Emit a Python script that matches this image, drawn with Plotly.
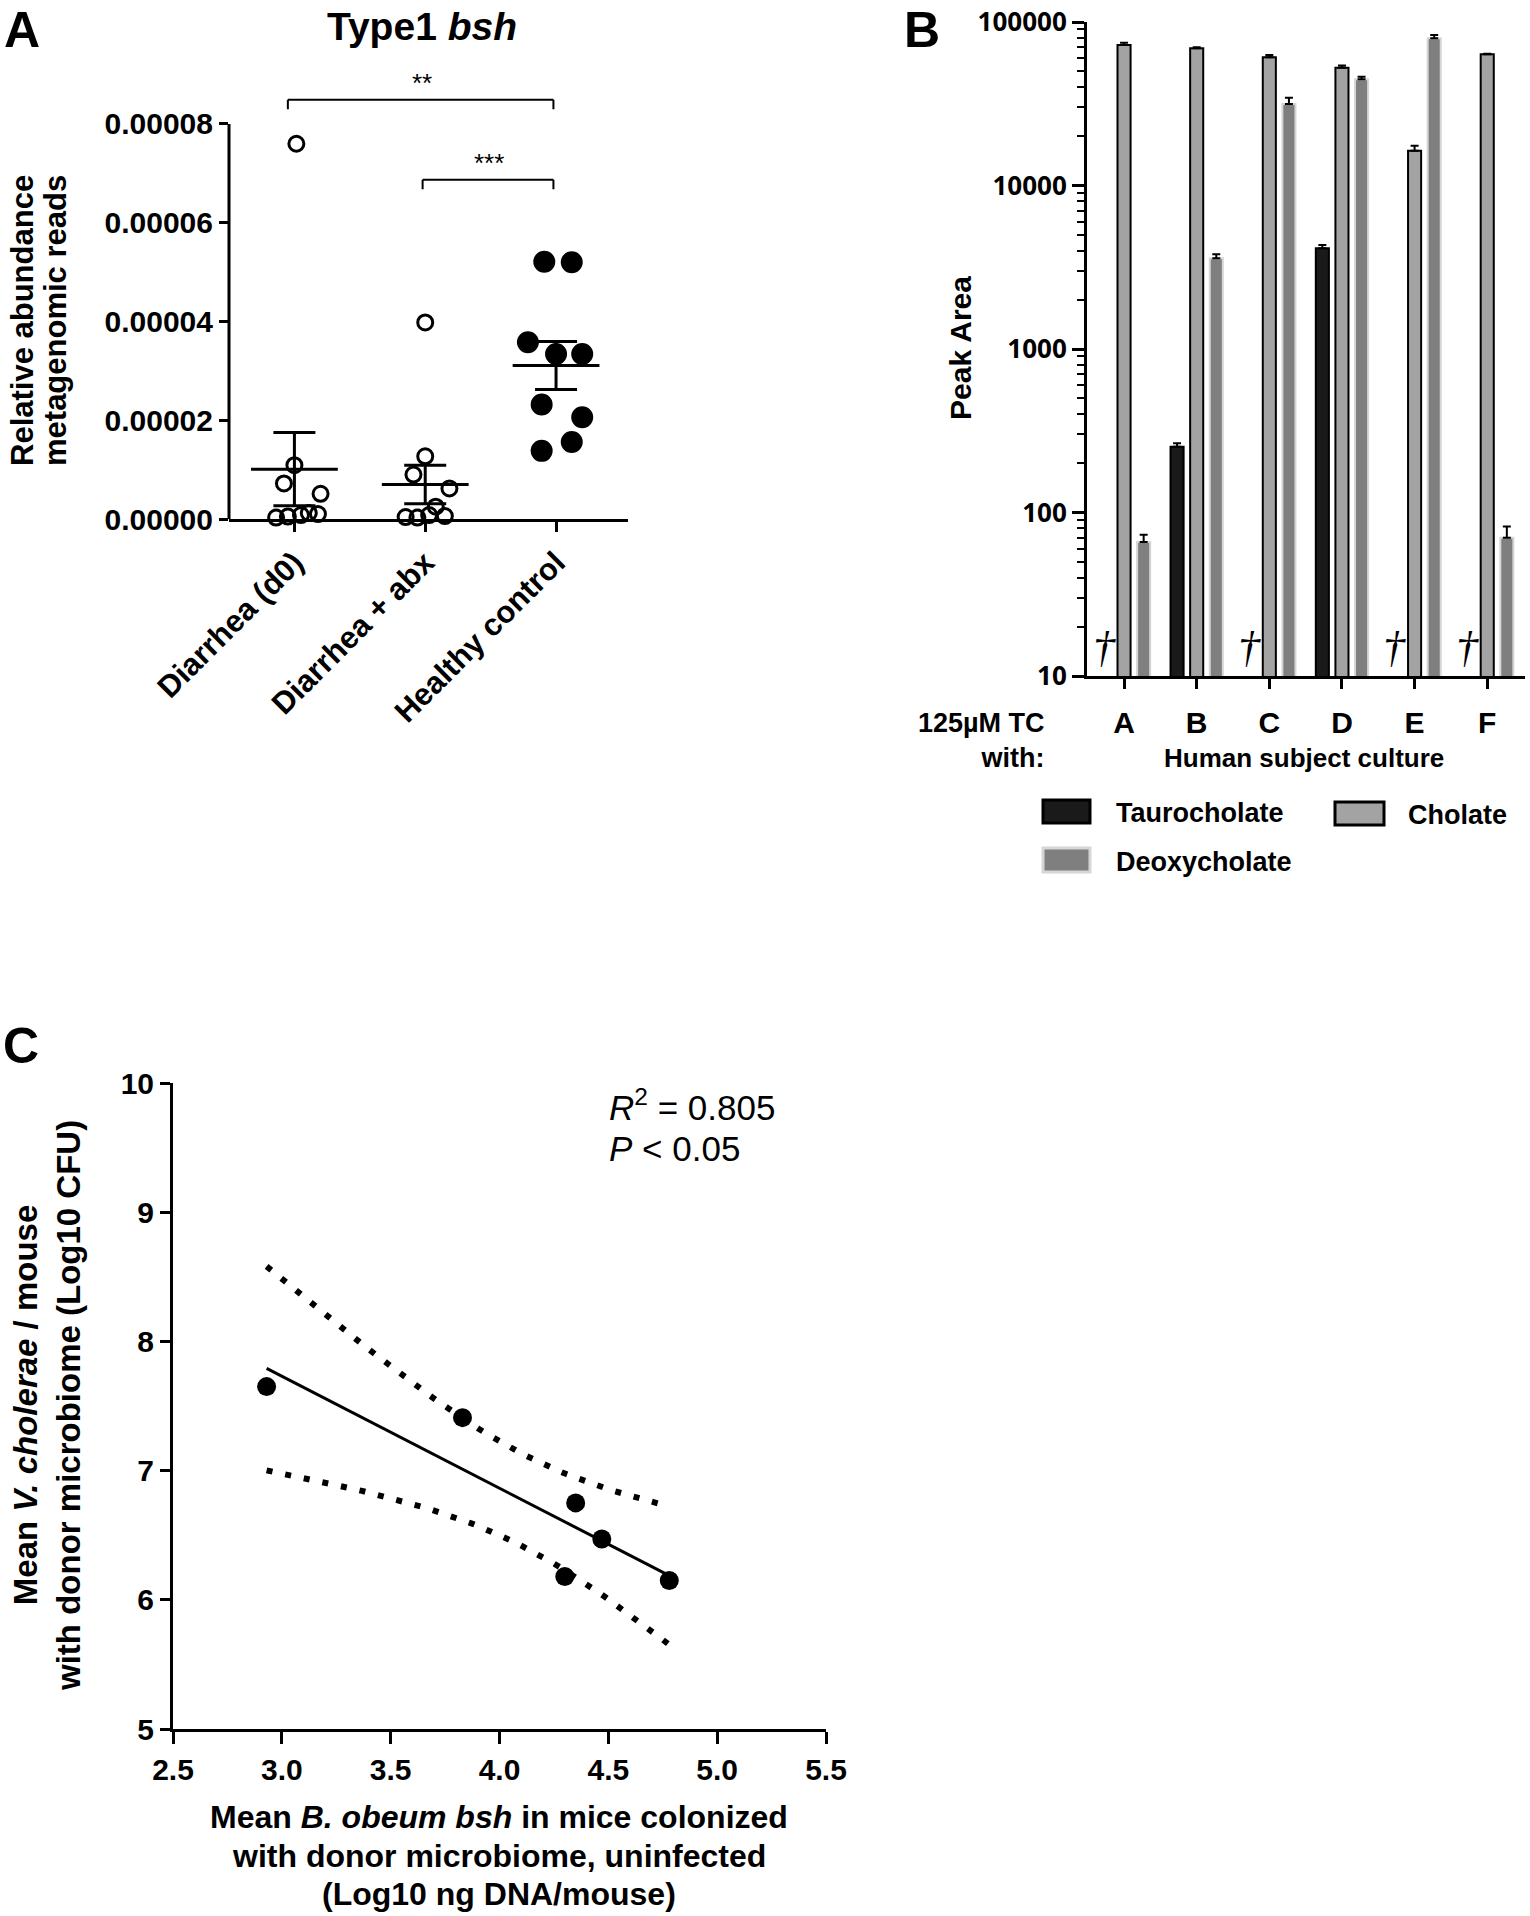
import numpy as np
import plotly.graph_objects as go

W, H = 1530, 1916
FONT = "Liberation Sans, Arial, sans-serif"

# ---------------- panel A : Type1 bsh relative abundance ----------------
groups = ["Diarrhea (d0)", "Diarrhea + abx", "Healthy control"]
d0_vals = [7.6e-5, 1.09e-5, 7.2e-6, 5.1e-6, 3e-7, 5e-7, 8e-7, 1.2e-6, 1.0e-6]
d0_jit = [0.015, 0.0, -0.08, 0.2, -0.14, -0.05, 0.05, 0.11, 0.18]
abx_vals = [3.98e-5, 1.27e-5, 9.0e-6, 6.2e-6, 2.5e-6, 4e-7, 3e-7, 8e-7, 6e-7]
abx_jit = [0.0, 0.0, -0.09, 0.185, 0.08, -0.15, -0.06, 0.03, 0.15]
hc_vals = [5.21e-5, 5.2e-5, 3.58e-5, 3.34e-5, 3.34e-5, 2.32e-5, 2.06e-5, 1.56e-5, 1.38e-5]
hc_jit = [-0.09, 0.12, -0.215, 0.0, 0.2, -0.11, 0.2, 0.12, -0.11]
group_mean = [1.01e-5, 7.0e-6, 3.11e-5]
group_sem = [7.4e-6, 3.9e-6, 4.85e-6]

# ---------------- panel B : bile acids, peak area ----------------
cultures = ["A", "B", "C", "D", "E", "F"]
tauro = [None, 252, None, 4130, None, None]
tauro_err = [0, 13, 0, 200, 0, 0]
cholate = [72300, 69000, 60800, 52500, 16300, 63400]
cholate_err = [2400, 1000, 2000, 1600, 1200, 500]
deoxy = [66, 3590, 31500, 44600, 79500, 70]
deoxy_err = [7, 210, 2900, 1600, 3700, 12]
no_tc = ["A", "C", "E", "F"]  # taurocholate not detected

# ---------------- panel C : regression ----------------
bsh_log = [2.93, 3.83, 4.35, 4.47, 4.30, 4.78]
vc_log = [7.65, 7.41, 6.75, 6.47, 6.18, 6.15]


def px(x):
    return x / W


def py(y):
    return 1 - y / H


fig = go.Figure()

# panel A points
for i, (vals, jit) in enumerate([(d0_vals, d0_jit), (abx_vals, abx_jit), (hc_vals, hc_jit)]):
    filled = i == 2
    fig.add_trace(go.Scatter(
        x=[i + j for j in jit], y=vals, mode="markers", xaxis="x", yaxis="y",
        marker=dict(symbol="circle" if filled else "circle-open", size=19 if filled else 15,
                    color="black", line=dict(width=3, color="black")),
        cliponaxis=False, showlegend=False))

# mean +/- SEM  (line-ew half length = 0.7 * size)
fig.add_trace(go.Scatter(
    x=[0, 1, 2], y=group_mean, mode="markers", xaxis="x", yaxis="y",
    marker=dict(symbol="line-ew", size=62, color="black", line=dict(width=3, color="black")),
    error_y=dict(type="data", array=group_sem, width=21, thickness=3, color="black"),
    cliponaxis=False, showlegend=False))

# panel B bars
bar_w = 0.18
bar_specs = [
    ("Taurocholate", tauro, tauro_err, -0.27, "#1a1a1a", "#000000"),
    ("Cholate", cholate, cholate_err, 0.0, "#a3a3a3", "#000000"),
    ("Deoxycholate", deoxy, deoxy_err, 0.27, "#7f7f7f", "#d6d6d6"),
]
for name, vals, err, shift, fill, edge in bar_specs:
    fig.add_trace(go.Bar(
        x=cultures, y=vals, name=name, width=bar_w, offset=shift - bar_w / 2,
        xaxis="x2", yaxis="y2",
        marker=dict(color=fill, line=dict(color=edge, width=2)),
        error_y=dict(type="data", symmetric=False, array=err, arrayminus=[0] * len(err),
                     width=4, thickness=2, color="black"),
        showlegend=False))

# panel C: linear fit + 95% confidence band
xs = np.array(bsh_log)
ys = np.array(vc_log)
slope, icpt = np.polyfit(xs, ys, 1)
n = len(xs)
resid = ys - (slope * xs + icpt)
s = np.sqrt((resid ** 2).sum() / (n - 2))
sxx = ((xs - xs.mean()) ** 2).sum()
t975 = 2.776  # t(0.975, df=4)
xf = np.linspace(xs.min(), xs.max(), 60)
yf = slope * xf + icpt
half = t975 * s * np.sqrt(1 / n + (xf - xs.mean()) ** 2 / sxx)

for band in (yf + half, yf - half):
    fig.add_trace(go.Scatter(x=xf, y=band, mode="lines", xaxis="x3", yaxis="y3",
                             line=dict(color="black", width=6, dash="6px,13px"),
                             showlegend=False))
fig.add_trace(go.Scatter(x=xf, y=yf, mode="lines", xaxis="x3", yaxis="y3",
                         line=dict(color="black", width=3), showlegend=False))
fig.add_trace(go.Scatter(x=bsh_log, y=vc_log, mode="markers", xaxis="x3", yaxis="y3",
                         marker=dict(color="black", size=19), showlegend=False))

ax = dict(showgrid=False, zeroline=False, linecolor="black", linewidth=3,
          ticks="outside", tickwidth=3, tickcolor="black",
          tickfont=dict(family=FONT, size=30, color="black", weight="bold"))

fig.update_layout(
    width=W, height=H, template="none",
    paper_bgcolor="white", plot_bgcolor="rgba(0,0,0,0)",
    margin=dict(l=0, r=0, t=0, b=0),
    font=dict(family=FONT, color="black"),
    barmode="overlay",
    xaxis=dict(ax, domain=[px(229), px(628)], range=[-0.5, 2.55], anchor="y",
               showline=True, tickvals=[0, 1, 2], ticktext=groups, tickangle=-45, ticklen=10,
               tickfont=dict(family=FONT, size=31, color="black", weight="bold")),
    yaxis=dict(ax, domain=[py(519), py(59.8)], range=[0, 9.3e-5], anchor="x",
               showline=False, tickvals=[0, 2e-5, 4e-5, 6e-5, 8e-5], tickformat=".5f", ticklen=9),
    xaxis2=dict(ax, domain=[px(1087), px(1525)], range=[-0.51, 5.52], anchor="y2",
                type="category", showline=True, ticklen=10, ticklabelstandoff=8),
    yaxis2=dict(ax, domain=[py(676), py(22)], type="log", range=[1, 5], anchor="x2",
                showline=True, ticklen=12,
                tickvals=[10, 100, 1000, 10000, 100000],
                ticktext=["10", "100", "1000", "10000", "100000"],
                tickfont=dict(family="Open Sans", size=26, color="black", weight="bold"),
                minor=dict(ticks="outside", ticklen=7, tickwidth=2, tickcolor="black",
                           tickvals=[m * 10 ** e for e in range(1, 5) for m in range(2, 10)])),
    xaxis3=dict(ax, domain=[px(173), px(826)], range=[2.5, 5.5], anchor="y3",
                showline=True, tick0=2.5, dtick=0.5, tickformat=".1f", ticklen=12),
    yaxis3=dict(ax, domain=[py(1729), py(1083)], range=[5, 10], anchor="x3",
                showline=True, dtick=1, ticklen=10),
)

shapes = [
    # panel A y axis line (only up to 0.00008)
    dict(type="line", xref="paper", yref="y", x0=px(229), x1=px(229), y0=0, y1=8e-5,
         line=dict(color="black", width=3)),
]
# significance brackets
for xa, xb, ylo, yhi in [(-0.05, 1.98, 8.3e-5, 8.49e-5), (0.98, 1.98, 6.68e-5, 6.87e-5)]:
    for x0, y0, x1, y1 in [(xa, ylo, xa, yhi), (xa, yhi, xb, yhi), (xb, yhi, xb, ylo)]:
        shapes.append(dict(type="line", xref="x", yref="y", x0=x0, y0=y0, x1=x1, y1=y1,
                           line=dict(color="black", width=2)))
# panel B legend swatches
for (x0, y0, x1, y1), fill, edge in [((1043, 800, 1090, 823), "#1a1a1a", "#000000"),
                                     ((1335, 802, 1384, 825), "#a3a3a3", "#000000"),
                                     ((1043, 848, 1090, 872), "#7f7f7f", "#d6d6d6")]:
    shapes.append(dict(type="rect", xref="paper", yref="paper",
                       x0=px(x0), x1=px(x1), y0=py(y1), y1=py(y0),
                       fillcolor=fill, line=dict(color=edge, width=3)))
fig.update_layout(shapes=shapes)


def note(text, x, y, size, xanchor="center", yanchor="middle", bold=True, angle=0,
         align="center", family=FONT, xref="paper", yref="paper"):
    fig.add_annotation(text=text, x=x, y=y, xref=xref, yref=yref, showarrow=False,
                       xanchor=xanchor, yanchor=yanchor, textangle=angle, align=align,
                       font=dict(family=family, size=size, color="black",
                                 weight="bold" if bold else "normal"))


# panel letters
note("A", px(22), 1, 50, yanchor="top")
note("B", px(922), 1, 50, yanchor="top")
note("C", px(21), py(1046), 50)

# panel A texts
note("Type1 <i>bsh</i>", px(422), py(27), 39)
note("Relative abundance", px(22), py(321), 31, angle=-90)
note("metagenomic reads", px(55), py(321), 31, angle=-90)
note("**", 0.977, 8.49e-5, 26, yanchor="bottom", bold=False, xref="x", yref="y")
note("***", 1.49, 6.87e-5, 26, yanchor="bottom", bold=False, xref="x", yref="y")

# panel B texts
note("Peak Area", px(960), py(348), 30, angle=-90)
note("125µM TC<br>with:", px(1047), py(740), 27, xanchor="right", align="right")
note("Human subject culture", px(1304), py(758), 26)
for c in no_tc:
    note("<i>†</i>", cultures.index(c) - 0.27, py(648), 44, bold=False,
         family="Liberation Serif, serif", xref="x2")
note("Taurocholate", px(1114), py(813), 27, xanchor="left")
note("Cholate", px(1406), py(815), 27, xanchor="left")
note("Deoxycholate", px(1114), py(862), 27, xanchor="left")

# panel C texts
note("Mean <i>V. cholerae</i> / mouse<br>with donor microbiome (Log10 CFU)",
     px(47), py(1406), 33, angle=-90)
note("Mean <i>B. obeum bsh</i> in mice colonized", px(499), py(1817), 32)
note("with donor microbiome, uninfected", px(499), py(1856), 32)
note("(Log10 ng DNA/mouse)", px(499), py(1894), 32)
note("<i>R</i><sup>2</sup> = 0.805", px(607), py(1105), 35, xanchor="left", bold=False)
note("<i>P</i> &lt; 0.05", px(607), py(1148), 35, xanchor="left", bold=False)

# the page body has a default 8px margin; remove it so the figure sits at the top-left corner
fig.write_html("out.html", config={"displayModeBar": False},
               post_script="document.body.style.margin = '0';")
